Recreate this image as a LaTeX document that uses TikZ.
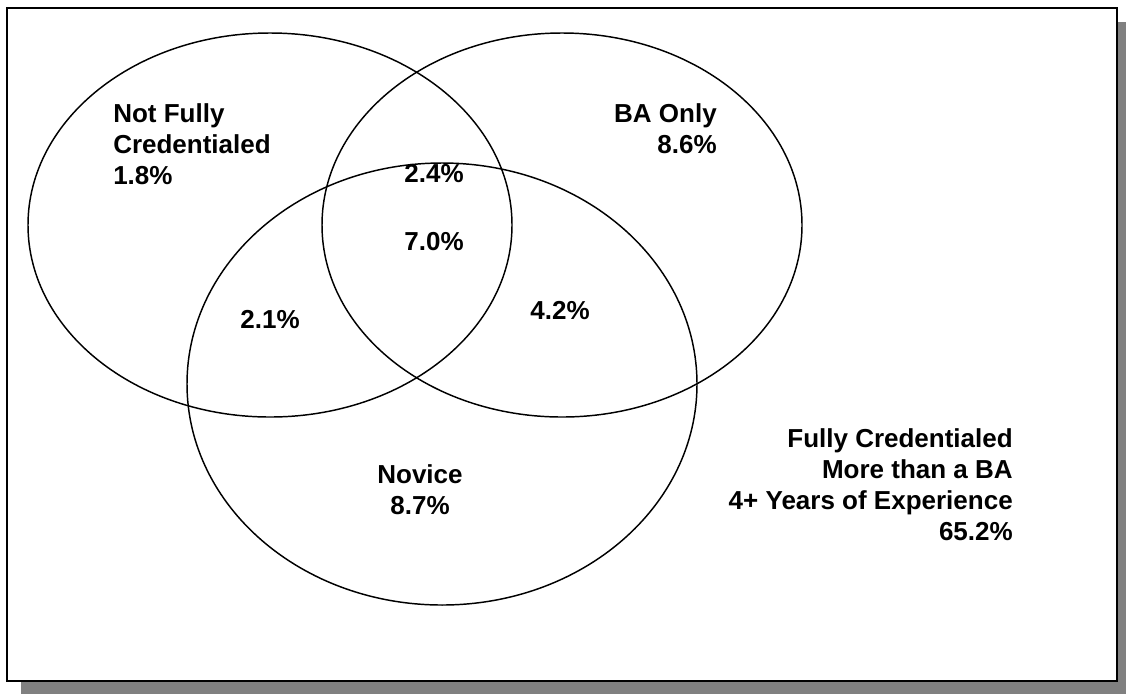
\documentclass[tikz,border=0pt]{standalone}
\usepackage{fontspec}
\setmainfont{Liberation Sans}
\usepackage{xcolor}
\usepackage{tikz}

\tikzset{
    pct/.style={font=\bfseries\fontsize{19.5}{23.25}\selectfont, inner sep=0pt},
    pctleft/.style={pct, align=left, anchor=north west},
    pctright/.style={pct, align=right, anchor=north east},
}

\begin{document}
\begin{tikzpicture}[x=0.75pt, y=-0.75pt]
    \useasboundingbox (0, 0) rectangle (1126, 694);

    % frame with shadow
    \fill[gray] (21, 22) rectangle (1126, 694);
    \draw[line width=1.6pt, fill=white] (7, 8) rectangle (1117, 681);

    % the three sets
    \draw[line width=1.1pt] (270, 225) ellipse [x radius=242, y radius=192];
    \draw[line width=1.1pt] (562, 225) ellipse [x radius=240, y radius=192];
    \draw[line width=1.1pt] (442, 384) ellipse [x radius=255, y radius=221];

    \node[pctleft] (notfully) at (113, 103) {Not Fully\\Credentialed\\1.8\%};
    \node[pctright] (baonly) at (717, 103) {BA Only\\8.6\%};
    \node[pct] (nfba) at (434, 174) {2.4\%};
    \node[pct] (all) at (434, 242) {7.0\%};
    \node[pct] (nfnov) at (270, 320) {2.1\%};
    \node[pct] (banov) at (560, 311) {4.2\%};
    \node[pct, align=center] (novice) at (420, 490) {Novice\\8.7\%};
    \node[pctright] (fully) at (1013, 428) {Fully Credentialed\\More than a BA\\4+ Years of Experience\\65.2\%};
\end{tikzpicture}
\end{document}
